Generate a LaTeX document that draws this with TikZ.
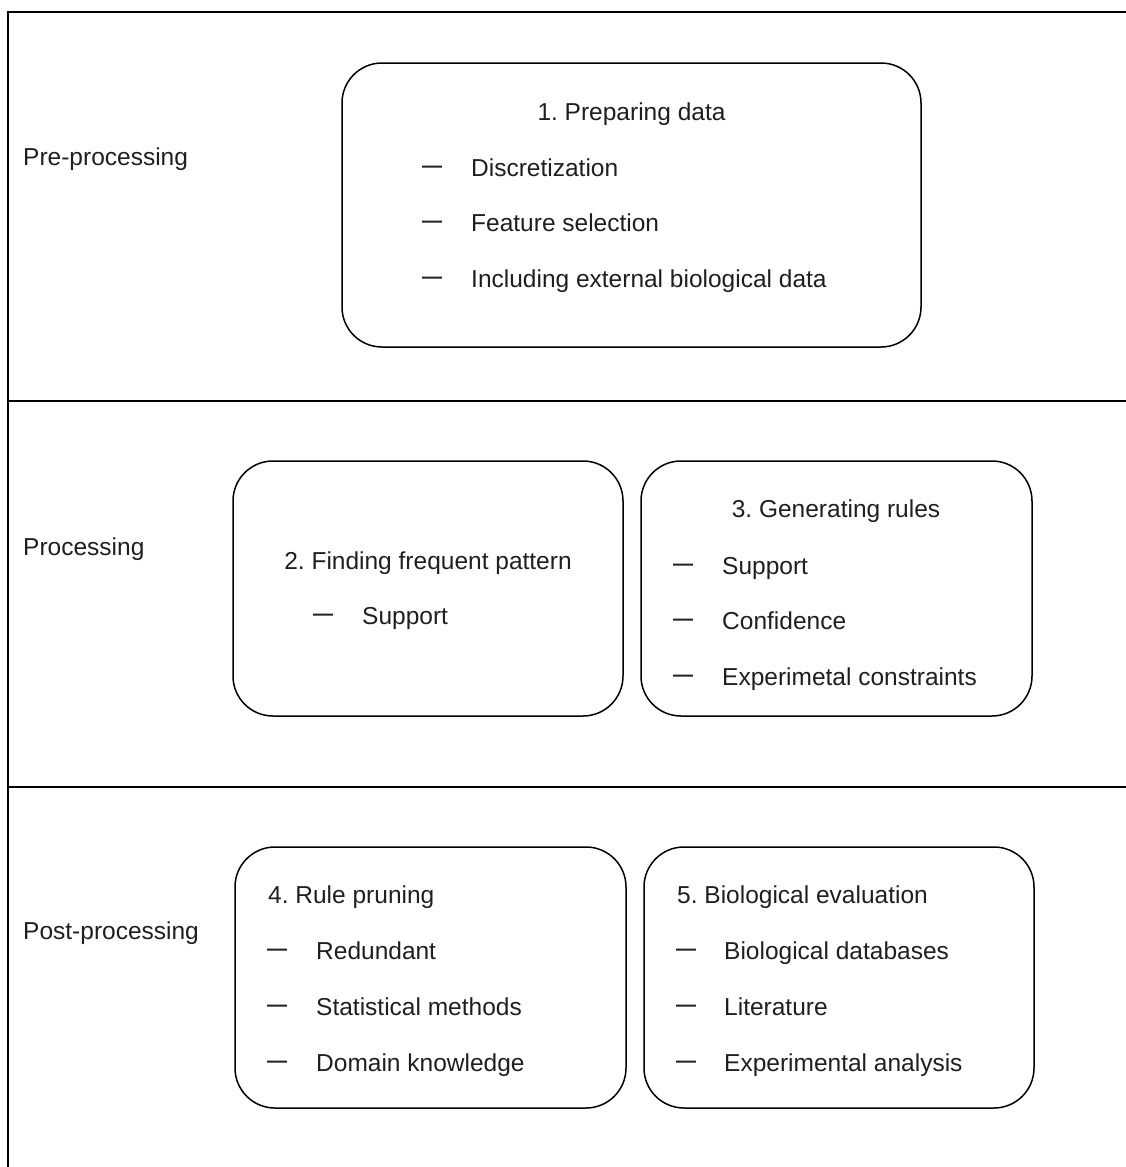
\documentclass[tikz,border=0pt]{standalone}
\usepackage{fontspec}
\setmainfont{Liberation Sans}
\frenchspacing
\begin{document}
\begin{tikzpicture}[x=1pt,y=-1pt,
  box/.style={draw, line width=1.5pt, rounded corners=40pt, inner sep=0pt},
  frameline/.style={line width=2pt},
  lbl/.style={anchor=base west, inner sep=0pt, text=black!88, font=\fontsize{24.5}{29}\selectfont},
  dashmark/.style={anchor=base west, inner sep=0pt, text=black!88, font=\fontsize{20}{20}\selectfont\bfseries}]
\useasboundingbox (0,0) rectangle (1125,1167);
% frame
\coordinate (tl) at (8,12);
\coordinate (tr) at (1126,12);
\coordinate (bl) at (8,1168);
\coordinate (d1l) at (8,401);
\coordinate (d1r) at (1126,401);
\coordinate (d2l) at (8,787);
\coordinate (d2r) at (1126,787);
\draw[frameline] (bl) -- (tl) -- (tr);
\draw[frameline] (d1l) -- (d1r);
\draw[frameline] (d2l) -- (d2r);
% row labels
\node[lbl] (r1) at (23,165) {Pre-processing};
\node[lbl] (r2) at (23,555) {Processing};
\node[lbl] (r3) at (23,939) {Post-processing};
% boxes
\node[box, minimum width=579pt, minimum height=284pt] (b1) at (631.5,205) {};
\node[box, minimum width=390pt, minimum height=255pt] (b2) at (428,588.5) {};
\node[box, minimum width=391pt, minimum height=255pt] (b3) at (836.5,588.5) {};
\node[box, minimum width=391pt, minimum height=261pt] (b4) at (430.5,977.5) {};
\node[box, minimum width=390pt, minimum height=261pt] (b5) at (839,977.5) {};
% box 1
\node[lbl, anchor=base] (t1) at (631.5,120) {1. Preparing data};
\node[dashmark] (d1a) at (422,176) {\raisebox{4pt}{—}};
\node[lbl] (t1a) at (471,176) {Discretization};
\node[dashmark] (d1b) at (422,231.5) {\raisebox{4pt}{—}};
\node[lbl] (t1b) at (471,231.5) {Feature selection};
\node[dashmark] (d1c) at (422,287) {\raisebox{4pt}{—}};
\node[lbl] (t1c) at (471,287) {Including external biological data};
% box 2
\node[lbl, anchor=base] (t2) at (428,569) {2. Finding frequent pattern};
\node[dashmark] (d2a) at (313,624) {\raisebox{4pt}{—}};
\node[lbl] (t2a) at (362,624) {Support};
% box 3
\node[lbl, anchor=base] (t3) at (836,517.5) {3. Generating rules};
\node[dashmark] (d3a) at (673,574) {\raisebox{4pt}{—}};
\node[lbl] (t3a) at (722,574) {Support};
\node[dashmark] (d3b) at (673,629.5) {\raisebox{4pt}{—}};
\node[lbl] (t3b) at (722,629.5) {Confidence};
\node[dashmark] (d3c) at (673,685) {\raisebox{4pt}{—}};
\node[lbl] (t3c) at (722,685) {Experimetal constraints};
% box 4
\node[lbl] (t4) at (268,903) {4. Rule pruning};
\node[dashmark] (d4a) at (267,959) {\raisebox{4pt}{—}};
\node[lbl] (t4a) at (316,959) {Redundant};
\node[dashmark] (d4b) at (267,1015) {\raisebox{4pt}{—}};
\node[lbl] (t4b) at (316,1015) {Statistical methods};
\node[dashmark] (d4c) at (267,1071) {\raisebox{4pt}{—}};
\node[lbl] (t4c) at (316,1071) {Domain knowledge};
% box 5
\node[lbl] (t5) at (677,903) {5. Biological evaluation};
\node[dashmark] (d5a) at (676,959) {\raisebox{4pt}{—}};
\node[lbl] (t5a) at (724,959) {Biological databases};
\node[dashmark] (d5b) at (676,1015) {\raisebox{4pt}{—}};
\node[lbl] (t5b) at (724,1015) {Literature};
\node[dashmark] (d5c) at (676,1071) {\raisebox{4pt}{—}};
\node[lbl] (t5c) at (724,1071) {Experimental analysis};
\end{tikzpicture}
\end{document}
